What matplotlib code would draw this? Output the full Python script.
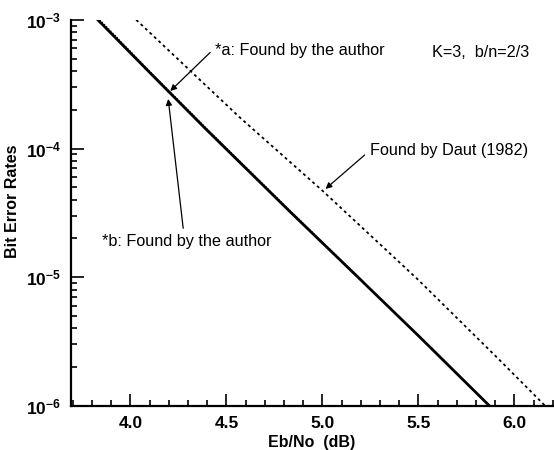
import matplotlib
matplotlib.use("Agg")
import matplotlib.pyplot as plt
from matplotlib.ticker import FixedLocator, FixedFormatter, LogLocator, NullFormatter, MultipleLocator

plt.rcParams["font.family"] = ["Liberation Sans", "DejaVu Sans"]
plt.rcParams["mathtext.fontset"] = "custom"
plt.rcParams["mathtext.rm"] = "Liberation Sans"
plt.rcParams["mathtext.bf"] = "Liberation Sans:bold"

# curves (Eb/No in dB, bit error rate)
author_x = [3.83, 4.10, 4.39, 4.83, 5.21, 5.51, 5.87]
author_ber = [1e-3, 3.9e-4, 1.43e-4, 3.24e-5, 9.2e-6, 3.39e-6, 1e-6]
author_b_x = [3.84, 4.10, 4.39, 4.83, 5.21]
author_b_ber = [1e-3, 3.98e-4, 1.46e-4, 3.3e-5, 9.3e-6]
daut_x = [4.03, 4.57, 5.00, 5.50, 5.92, 6.16]
daut_ber = [1e-3, 1.74e-4, 4.7e-5, 9.5e-6, 2.29e-6, 1e-6]

x_major = [4.0, 4.5, 5.0, 5.5, 6.0]
x_labels = ["4.0", "4.5", "5.0", "5.5", "6.0"]
y_major = [1e-6, 1e-5, 1e-4, 1e-3]
y_labels = [r"$\mathbf{10^{-6}}$", r"$\mathbf{10^{-5}}$", r"$\mathbf{10^{-4}}$", r"$\mathbf{10^{-3}}$"]

fig = plt.figure(figsize=(5.54, 4.5), dpi=100)
ax = fig.add_axes([0.128, 0.098, 0.87, 0.858])

ax.plot(author_x, author_ber, color="black", lw=2.0)
ax.plot(author_b_x, author_b_ber, color="black", lw=1.0, ls=(0, (1, 1.2)))
ax.plot(daut_x, daut_ber, color="black", lw=1.3, ls=(0, (1.6, 1.8)))

ax.set_yscale("log")
ax.set_xlim(3.69, 6.2)
ax.set_ylim(1e-6, 1e-3)

ax.xaxis.set_major_locator(FixedLocator(x_major))
ax.xaxis.set_major_formatter(FixedFormatter(x_labels))
ax.xaxis.set_minor_locator(MultipleLocator(0.1))
ax.yaxis.set_major_locator(FixedLocator(y_major))
ax.yaxis.set_major_formatter(FixedFormatter(y_labels))
ax.yaxis.set_minor_locator(LogLocator(base=10, subs=range(2, 10)))
ax.yaxis.set_minor_formatter(NullFormatter())

for side in ("top", "right"):
    ax.spines[side].set_visible(False)
for side in ("left", "bottom"):
    ax.spines[side].set_linewidth(1.6)

ax.tick_params(which="both", direction="in", width=1.2)
ax.tick_params(which="major", length=9, labelsize=12.5, pad=7)
ax.tick_params(which="minor", length=4.5)
for lab in ax.get_xticklabels():
    lab.set_fontweight("bold")

ax.set_xlabel("Eb/No  (dB)", fontsize=11.5, fontweight="bold", labelpad=3)
ax.set_ylabel("Bit Error Rates", fontsize=11.5, fontweight="bold", labelpad=3)
ax.yaxis.set_label_coords(-0.105, 0.53)

txt = dict(fontsize=11.7, color="black")
arrow = dict(arrowstyle="-|>", color="black", lw=0.9, mutation_scale=9)
ax.annotate("*a: Found by the author", xy=(4.197, 2.7e-4), xytext=(4.44, 5.75e-4),
            ha="left", va="center", arrowprops=dict(arrow, relpos=(0.01, 0.8)),
            **txt)
ax.annotate("*b: Found by the author", xy=(4.195, 2.55e-4), xytext=(3.85, 1.9e-5),
            ha="left", va="center", arrowprops=dict(arrow, relpos=(0.485, 1.0)),
            **txt)
ax.annotate("Found by Daut (1982)", xy=(5.005, 4.7e-5), xytext=(5.245, 9.6e-5),
            ha="left", va="center", arrowprops=dict(arrow, relpos=(0.0, 0.5)),
            **txt)
ax.text(5.57, 5.55e-4, "K=3,  b/n=2/3", ha="left", va="center", **txt)

fig.savefig("out.png", dpi=100)
